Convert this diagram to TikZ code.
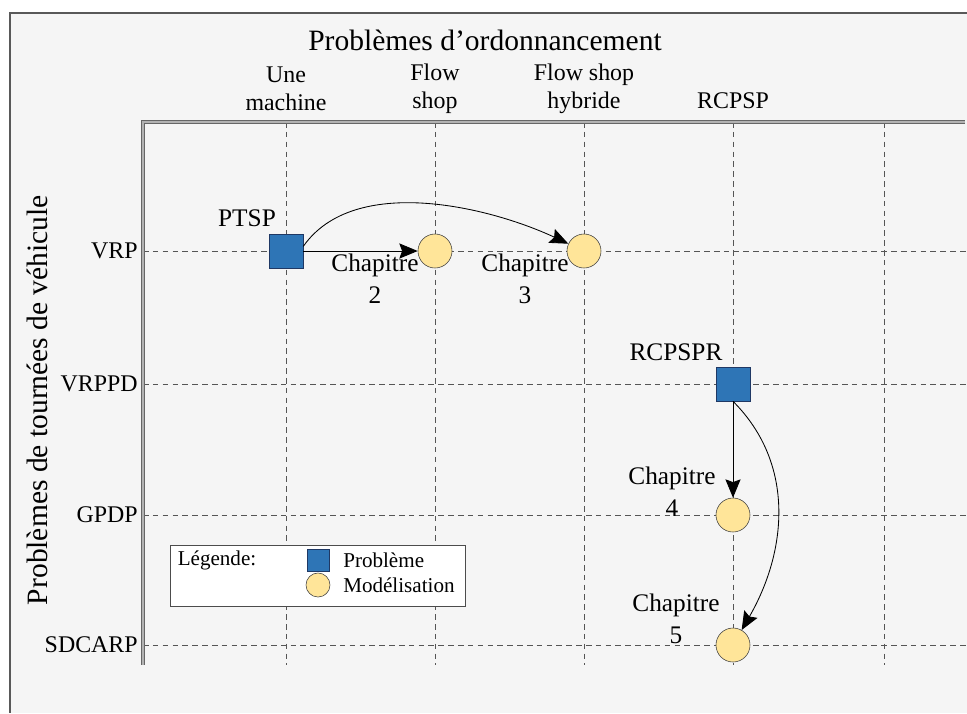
\documentclass[tikz,border=0pt]{standalone}
\usepackage{fontspec}
\setmainfont{Liberation Serif}
\usetikzlibrary{arrows, arrows.meta}
\usetikzlibrary{calc}

\definecolor{probblue}{RGB}{46,117,182}
\definecolor{probedge}{RGB}{31,56,100}
\definecolor{modyellow}{RGB}{255,229,153}
\definecolor{bggray}{RGB}{245,245,245}
\definecolor{gridgray}{RGB}{85,85,85}

\begin{document}
\begin{tikzpicture}[x=0.025cm, y=0.025cm,
    probleme/.style={rectangle, draw=probedge, fill=probblue, inner sep=0pt, minimum size=0.85cm},
    modele/.style={circle, draw=black!75, fill=modyellow, inner sep=0pt, minimum size=0.85cm},
    lbl/.style={font=\fontsize{18}{23}\selectfont, align=center, inner sep=0pt},
    entete/.style={font=\fontsize{17}{20}\selectfont, align=center, inner sep=0pt},
    titre/.style={font=\fontsize{21}{25}\selectfont, inner sep=0pt},
    legtxt/.style={font=\fontsize{15}{17}\selectfont, inner sep=0pt},
    grille/.style={draw=gridgray, dash pattern=on 4pt off 3pt, line width=0.6pt},
    axe/.style={draw=black!60, double=black!30, double distance=1.2pt, line width=0.6pt},
    fleche/.style={-{Stealth[length=4.6mm, width=3.8mm, inset=0.7mm]}, line width=0.6pt},
  ]
    \useasboundingbox (0,0) rectangle (967,-713);
    % fond et cadre
    \fill[bggray] (10,-13) rectangle (967,-713);
    \draw[black!65, line width=0.8pt] (967,-13) -- (10,-13) -- (10,-713);

    % grille
    \foreach \x in {286,435,584,733,884}
      \draw[grille] (\x,-122) -- (\x,-665);
    \foreach \y in {251,384,515,645}
      \draw[grille] (143,-\y) -- (967,-\y);

    % axes
    \draw[axe] (965,-122) -- (143,-122) -- (143,-665);

    % titres
    \node[titre] (ordo) at (485,-40) {Problèmes d’ordonnancement};
    \node[titre, rotate=90] (tournees) at (37,-400) {Problèmes de tournées de véhicule};

    % colonnes
    \node[entete] (une) at (286,-89) {Une\\machine};
    \node[entete] (flow) at (435,-89) {Flow\\shop};
    \node[entete] (hybride) at (584,-89) {Flow shop\\hybride};
    \node[entete] (rcpsp) at (733,-101) {RCPSP};

    % lignes
    \node[entete, anchor=east] (vrp) at (138,-251) {VRP};
    \node[entete, anchor=east] (vrppd) at (138,-384) {VRPPD};
    \node[entete, anchor=east] (gpdp) at (138,-515) {GPDP};
    \node[entete, anchor=east] (sdcarp) at (138,-645) {SDCARP};

    % legende
    \node[draw=black!70, fill=white, minimum width=7.375cm, minimum height=1.525cm] (legende) at (317.5,-575.5) {};
    \node[legtxt] (legtitre) at (217,-560) {Légende:};
    \node[probleme, minimum size=0.55cm] (legprob) at (318,-560) {};
    \node[legtxt, anchor=west] (legprobtxt) at (343,-560) {Problème};
    \node[modele, minimum size=0.6cm] (legmod) at (318,-585) {};
    \node[legtxt, anchor=west] (legmodtxt) at (343,-585) {Modélisation};

    % problemes et modelisations
    \node[probleme] (ptsp) at (286,-251) {};
    \node[lbl] (ptsplbl) at (247,-218) {PTSP};
    \node[modele] (m2) at (435,-251) {};
    \node[modele] (m3) at (584,-251) {};
    \node[probleme] (rcpspr) at (733,-384) {};
    \node[lbl] (rcpsprlbl) at (676,-352) {RCPSPR};
    \node[modele] (m4) at (733,-515) {};
    \node[modele] (m5) at (733,-645) {};

    \node[lbl] (chap2) at (375,-279) {Chapitre\\2};
    \node[lbl] (chap3) at (525,-279) {Chapitre\\3};
    \node[lbl] (chap4) at (672,-492) {Chapitre\\4};
    \node[lbl] (chap5) at (676,-619) {Chapitre\\5};

    % fleches
    \draw[fleche] (ptsp) -- (m2);
    \draw[fleche] (ptsp.15) to[out=55, in=155, looseness=0.85] (m3);
    \draw[fleche] (rcpspr) -- (m4);
    \draw[fleche] (rcpspr.south) to[out=-45, in=60] (m5);
\end{tikzpicture}
\end{document}
